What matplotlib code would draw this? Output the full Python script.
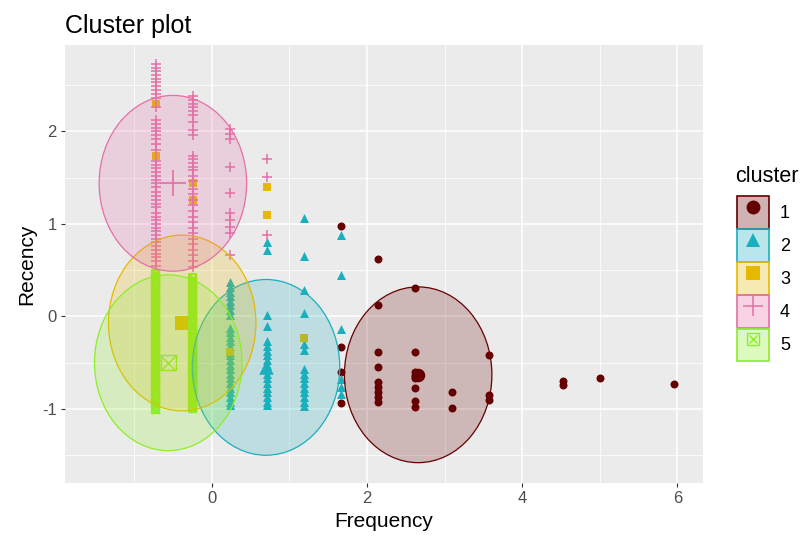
import matplotlib
matplotlib.use("Agg")
import matplotlib.pyplot as plt
from matplotlib.patches import Ellipse, Patch
from matplotlib.lines import Line2D
from matplotlib.ticker import MultipleLocator

plt.rcParams['font.family'] = ['Liberation Sans', 'DejaVu Sans']
plt.rcParams['axes.unicode_minus'] = False

clusters = ['1', '2', '3', '4', '5']
colors = ['#660000', '#1AAFBD', '#E7B800', '#E56FA6', '#8CEE28']

# cluster 1 (Frequency column -> Recency values)
c1_cols = [1.665, 2.142, 2.619, 3.096, 3.573, 4.527, 5.004, 5.958]
c1_rec = [[0.98, -0.33, -0.60, -0.94],
          [0.62, 0.12, -0.38, -0.55, -0.71, -0.76, -0.82, -0.87, -0.92],
          [0.31, -0.38, -0.60, -0.64, -0.67, -0.77, -0.91, -0.98],
          [-0.82, -0.99],
          [-0.42, -0.85, -0.90],
          [-0.70, -0.74],
          [-0.67],
          [-0.73]]

# cluster 2
c2_cols = [0.234, 0.711, 1.188, 1.665]
c2_rec = [[0.37, 0.32, 0.27, 0.22, 0.17, 0.12, 0.07, 0.02, -0.12, -0.17, -0.22, -0.27, -0.32,
           -0.38, -0.42, -0.47, -0.52, -0.57, -0.62, -0.67, -0.72, -0.77, -0.82, -0.87, -0.92, -0.96],
          [0.80, 0.72, 0.02, -0.10, -0.27, -0.32, -0.37, -0.42, -0.47, -0.52, -0.57, -0.62, -0.67,
           -0.72, -0.77, -0.82, -0.87, -0.92, -0.96],
          [1.07, 0.65, 0.29, 0.04, -0.30, -0.36, -0.57, -0.62, -0.67, -0.72, -0.77, -0.82, -0.87,
           -0.92, -0.97],
          [0.88, 0.45, -0.14, -0.68, -0.76, -0.84]]

# cluster 3
c3_cols = [-0.720, -0.243, 0.234, 0.711, 1.188]
c3_rec = [[2.30, 1.74],
          [1.44, 1.26, 0.15],
          [-0.38],
          [1.40, 1.10],
          [-0.23]]

# cluster 4
c4_cols = [-0.720, -0.243, 0.234, 0.711]
c4_rec = [[2.73, 2.69, 2.65, 2.61, 2.57, 2.53, 2.49, 2.45, 2.40, 2.36, 2.26, 2.12, 2.08, 2.04,
           2.00, 1.96, 1.92, 1.86, 1.80, 1.68, 1.64, 1.60, 1.56, 1.52, 1.48, 1.44, 1.40, 1.35,
           1.30, 1.26, 1.22, 1.18, 1.12, 1.08, 1.04, 1.00, 0.96, 0.92, 0.88, 0.84, 0.80, 0.76,
           0.72, 0.68, 0.64, 0.60, 0.55],
          [2.38, 2.34, 2.30, 2.26, 2.22, 2.18, 2.10, 2.02, 1.96, 1.74, 1.70, 1.66, 1.62, 1.58,
           1.52, 1.46, 1.38, 1.32, 1.26, 1.20, 1.14, 1.08, 1.02, 0.96, 0.90, 0.84, 0.78, 0.72,
           0.66, 0.60, 0.54],
          [2.03, 1.97, 1.92, 1.62, 1.33, 1.12, 1.04, 0.97, 0.90, 0.67],
          [1.70, 1.51, 0.88]]

# cluster 5
c5_cols = [-0.720, -0.243]
c5_rec = [[0.47, 0.43, 0.39, 0.35, 0.31, 0.27, 0.23, 0.19, 0.15, 0.11, 0.07, 0.03, -0.01, -0.05,
           -0.09, -0.13, -0.17, -0.21, -0.25, -0.29, -0.33, -0.37, -0.41, -0.45, -0.49, -0.53,
           -0.57, -0.61, -0.65, -0.69, -0.73, -0.77, -0.81, -0.85, -0.89, -0.93, -0.97, -1.01],
          [0.42, 0.38, 0.34, 0.30, 0.26, 0.22, 0.18, 0.14, 0.10, 0.06, 0.02, -0.02, -0.06, -0.10,
           -0.14, -0.18, -0.22, -0.26, -0.30, -0.34, -0.38, -0.42, -0.46, -0.50, -0.54, -0.58,
           -0.62, -0.66, -0.70, -0.74, -0.78, -0.82, -0.86, -0.90, -0.94, -0.98, -1.00]]

centroid_x = [2.66, 0.70, -0.38, -0.50, -0.56]
centroid_y = [-0.63, -0.55, -0.07, 1.44, -0.50]
ellipse_r = [0.95, 0.95, 0.95, 0.95, 0.95]

all_cols = [c1_cols, c2_cols, c3_cols, c4_cols, c5_cols]
all_rec = [c1_rec, c2_rec, c3_rec, c4_rec, c5_rec]


def flatten(cols, recs):
    xs, ys = [], []
    for c, r in zip(cols, recs):
        for v in r:
            xs.append(c)
            ys.append(v)
    return xs, ys


fig = plt.figure(figsize=(8.05, 5.49), dpi=100)
ax = fig.add_axes([65 / 805, 66 / 549, 638 / 805, 438 / 549])
ax.set_facecolor('#EBEBEB')
for s in ax.spines.values():
    s.set_visible(False)

ax.set_xlim(-1.89, 6.33)
ax.set_ylim(-1.80, 2.935)
ax.xaxis.set_major_locator(MultipleLocator(2))
ax.xaxis.set_minor_locator(MultipleLocator(1))
ax.yaxis.set_major_locator(MultipleLocator(1))
ax.yaxis.set_minor_locator(MultipleLocator(0.5))
ax.grid(which='major', color='white', lw=1.1)
ax.grid(which='minor', color='white', lw=0.55)
ax.set_axisbelow(True)
ax.tick_params(which='major', length=3, width=0.8, color='#333333',
               labelcolor='#4D4D4D', labelsize=12, pad=3)
ax.tick_params(which='minor', length=0)

point_size = [33, 42, 26, 55, 24]
cent_size = [95, 110, 95, 330, 110]
markers = ['o', '^', 's', '+', 's']

for i in range(5):
    xs, ys = flatten(all_cols[i], all_rec[i])
    col = colors[i]
    if i == 3:
        ax.scatter(xs, ys, s=point_size[i], marker='+', color=col, lw=1.1, zorder=3)
        ax.scatter([centroid_x[i]], [centroid_y[i]], s=cent_size[i], marker='+', color=col,
                   lw=1.2, zorder=3)
    elif i == 4:
        ax.scatter(xs, ys, s=point_size[i], marker='s', facecolor='none', edgecolor=col,
                   lw=1.6, zorder=3)
        ax.scatter(xs, ys, s=point_size[i], marker='x', color=col, lw=1.5, zorder=3)
        ax.scatter([centroid_x[i]], [centroid_y[i]], s=cent_size[i], marker='s',
                   facecolor='none', edgecolor=col, lw=1.0, zorder=3)
        ax.scatter([centroid_x[i]], [centroid_y[i]], s=cent_size[i], marker='x',
                   color=col, lw=1.0, zorder=3)
    else:
        ax.scatter(xs, ys, s=point_size[i], marker=markers[i], color=col, lw=0, zorder=3)
        ax.scatter([centroid_x[i]], [centroid_y[i]], s=cent_size[i], marker=markers[i],
                   color=col, lw=0, zorder=3)

for i in range(5):
    e = Ellipse((centroid_x[i], centroid_y[i]), 2 * ellipse_r[i], 2 * ellipse_r[i],
                facecolor=colors[i], alpha=0.22, edgecolor='none', zorder=4)
    ax.add_patch(e)
    e2 = Ellipse((centroid_x[i], centroid_y[i]), 2 * ellipse_r[i], 2 * ellipse_r[i],
                 facecolor='none', edgecolor=colors[i], lw=0.9, zorder=4)
    ax.add_patch(e2)

ax.set_xlabel('Frequency', fontsize=15, labelpad=4)
ax.set_ylabel('Recency', fontsize=15, labelpad=4)
ax.set_title('Cluster plot', loc='left', fontsize=18, pad=9)

# legend
handles = []
for i in range(5):
    p = Patch(facecolor=colors[i], edgecolor='none', alpha=0.3)
    pe = Patch(facecolor='none', edgecolor=colors[i], lw=1.2)
    if i == 3:
        m = Line2D([], [], marker='+', color=colors[i], ls='none', markersize=15, mew=1.1)
        handles.append((p, pe, m))
    elif i == 4:
        m = Line2D([], [], marker='s', color=colors[i], mfc='none', ls='none', markersize=8, mew=1.0)
        m2 = Line2D([], [], marker='x', color=colors[i], ls='none', markersize=6, mew=1.0)
        handles.append((p, pe, m, m2))
    else:
        m = Line2D([], [], marker=markers[i], color=colors[i], ls='none', markersize=10, mew=0)
        handles.append((p, pe, m))

fig.text(735 / 805, 1 - 177 / 549, 'cluster', fontsize=15.5, ha='left', va='center')
leg = fig.legend(handles, clusters, loc='upper left',
                 bbox_to_anchor=(732 / 805, 1 - 191 / 549), frameon=False,
                 fontsize=13, handlelength=1.75, handleheight=2.36,
                 labelspacing=0.05, handletextpad=0.6, borderaxespad=0, borderpad=0.3)

fig.savefig('out.png', dpi=100)
